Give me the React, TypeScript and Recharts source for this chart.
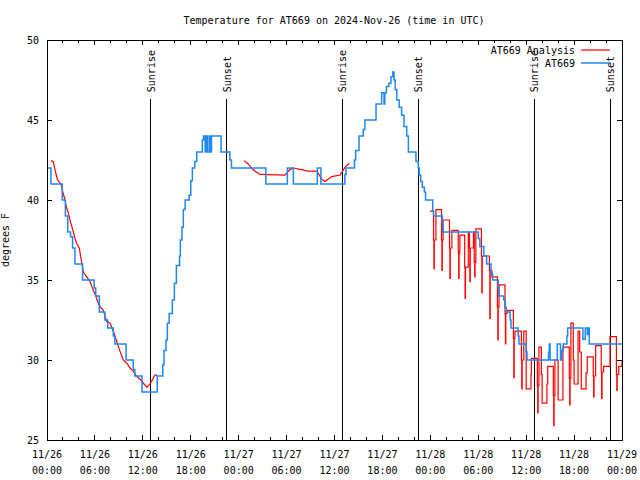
import React from 'react';
import { LineChart, Line, XAxis, YAxis, ReferenceLine, ReferenceArea } from 'recharts';

const FONT = '"DejaVu Sans Mono", "Liberation Mono", monospace';
const PLOT_TOP = 40;
const PLOT_BOTTOM = 440;
const PLOT_LEFT = 47;
const PLOT_RIGHT = 622;

// hours since 2024-11-26 00:00 UTC
const obsHours = [
  0.15, 0.5, 1.9, 2.3, 2.6, 2.95, 3.2, 3.5, 4.45, 5.9, 6.1, 6.55, 7.25, 7.6, 8.3, 8.5, 9.9, 10.8, 11.0, 11.9,
  13.8, 14.5, 14.65, 14.9, 15.07, 15.3, 15.7, 15.95, 16.2, 16.6, 16.7, 16.9, 17.07, 17.3, 17.8, 18.0, 18.2,
  18.5, 18.75, 19.45, 19.6, 19.8, 19.95, 20.07, 20.3, 20.45, 20.6, 21.8, 22.9, 23.1, 27.4, 30.1, 30.85,
  33.85, 34.3, 37.3, 37.44, 38.5, 38.65, 39.07, 39.6, 39.8, 41.2, 41.9, 42.2, 42.3, 42.5, 42.8, 43.07, 43.3,
  43.45, 43.6, 43.8, 44.1, 44.4, 44.7, 45.04, 45.25, 46.2, 46.5, 46.6, 46.8, 47.0, 47.25, 47.4, 48.3, 48.4,
  49.5, 49.55, 54.0, 54.2, 54.7, 55.05, 55.6, 55.8, 56.5, 56.6, 57.2, 57.35, 57.5, 58.0, 58.1, 59.0, 59.1,
  60.0, 60.1, 62.8, 62.9, 63.0, 63.9, 64.3, 64.45, 64.65, 65.1, 65.2, 67.1, 67.4, 67.65, 67.8, 67.9, 72,
];
const obsTemps = [
  42, 41, 40, 39, 38, 37.7, 37, 36, 35, 34.5, 34, 33, 32.5, 32, 31.5, 31, 30, 29.4, 29, 28,
  29, 29.7, 30.6, 31.25, 32.3, 32.9, 33.75, 34.8, 35.9, 36.5, 37.5, 38.3, 39.4, 40, 40.3, 41.2, 42,
  42.4, 43, 43.75, 44, 43, 44, 43, 44, 43, 44, 43, 42.5, 42, 41, 42, 41,
  42, 41, 41.6, 42, 42.5, 43.1, 44, 44.4, 45, 46, 46.7, 46, 46.7, 47.1, 47.3, 47.7, 48,
  47.5, 46.9, 46.25, 45.8, 45.3, 44.6, 44, 43, 42.4, 42, 41.56, 41.15, 40.8, 40.5, 40, 39.3, 39,
  38.5, 38, 37.6, 37.1, 36.5, 36, 35.4, 35, 34.5, 34, 33.75, 33.3, 33, 32.5, 32, 31.5, 31,
  30.5, 30, 30.5, 31, 30, 31, 30, 30.6, 31, 31.5, 32, 31.3, 32, 31.6, 32, 31, 31,
];

// analysis, first two days (smooth, gap between)
const anaSmoothHours = [
  0.5, 0.79, 1.0, 1.29, 1.54, 1.75, 2.04, 2.25, 2.46, 2.67, 2.96, 3.3, 3.5, 3.7, 4.05, 4.2, 4.55, 4.97, 5.4,
  5.6, 6.1, 6.55, 7.05, 7.47, 7.9, 8.3, 8.7, 9.1, 9.55, 10.0, 10.4, 10.8, 11.2, 11.65, 12.15, 12.5, 12.9,
  13.3, 13.5, 13.8, 19,
  24.67, 25.2, 25.6, 26.05, 26.7, 29.8, 30.4, 30.85, 31.9, 32.6, 33.8, 34.4, 34.8, 35.65, 36.7, 37.3, 37.85,
];
const anaSmoothTemps = [
  42.46, 42.4, 41.9, 41.3, 41.1, 41.0, 40.4, 40.0, 39.5, 39.2, 38.6, 38.0, 37.6, 37.3, 37.0, 36.5, 35.5, 35.2, 34.9,
  34.6, 34.0, 33.4, 33.1, 32.4, 32.3, 31.8, 31.2, 30.6, 30.0, 29.8, 29.5, 29.3, 29.0, 28.8, 28.5, 28.3, 28.5,
  28.85, 29.06, 29.06, null,
  42.46, 42.25, 42.0, 41.8, 41.6, 41.56, 41.9, 42.0, 41.9, 41.8, 41.8, 41.3, 41.15, 41.46, 41.56, 42.04, 42.3,
];

// analysis, third day (stepped, with dips)
const anaStepHours = [
  47.96, 48.4, 48.45, 48.5, 48.7, 49.4, 49.45, 49.5, 49.6, 50.4, 50.45, 50.5, 50.7, 51.5, 51.55, 51.6, 51.7,
  52.3, 52.35, 52.4, 52.75, 52.9, 52.95, 53.0, 53.4, 53.5, 53.55, 53.6, 53.7, 54.4, 54.45, 54.5, 55.4, 55.45,
  55.5, 55.7, 56.4, 56.45, 56.5, 56.6, 57.35, 57.4, 57.45, 57.6, 58.4, 58.45, 58.5, 58.6, 59.4, 59.45, 59.5,
  59.7, 60.0, 60.6, 60.65, 61.4, 61.45, 61.5, 61.6, 61.9, 62.0, 62.6, 62.7, 63.4, 63.45, 63.5, 63.6, 64.0,
  64.6, 65.4, 65.45, 65.5, 65.6, 65.9, 66.0, 66.5, 66.7, 66.9, 67.5, 67.65, 68.4, 68.45, 68.5, 68.7, 69.4,
  69.45, 69.5, 69.7, 70.5, 71.3, 71.35, 71.4, 71.6, 72,
];
const anaStepTemps = [
  39.3, 37.5, 35.7, 37.5, 39.4, 37.5, 35.6, 37.5, 38.75, 37.0, 35.1, 37.0, 38.1, 36.7, 35.1, 36.7, 37.8,
  35.8, 33.85, 35.8, 38.0, 37.0, 34.9, 37.0, 38.0, 36.1, 35.2, 36.1, 38.2, 36.5, 34.2, 36.5, 35.6, 32.6,
  35.6, 35.2, 33.3, 31.25, 33.3, 34.7, 32.9, 31.0, 32.9, 33.1, 31.35, 28.9, 31.35, 31.8, 30.0, 28.2, 30.0,
  31.8, 28.2, 29.1, 30.1, 28.4, 26.7, 28.4, 30.8, 29.1, 27.3, 28.5, 29.6, 27.75, 25.9, 27.75, 30.0, 27.5,
  30.8, 28.85, 27.2, 28.85, 32.3, 30.0, 28.5, 31.8, 30.5, 28.2, 29.2, 30.2, 29.0, 27.7, 29.0, 30.9, 29.25,
  27.6, 29.25, 29.6, 31.46, 29.1, 28.1, 29.1, 29.6, 30,
];

const sunHours = [12.98, 22.5, 36.99, 46.5, 60.99, 70.5];
const sunLabels = ['Sunrise', 'Sunset', 'Sunrise', 'Sunset', 'Sunrise', 'Sunset'];
const sunLineTop = 46.3;

const majorHours = [0, 6, 12, 18, 24, 30, 36, 42, 48, 54, 60, 66, 72];
const xTickDates = ['11/26', '11/26', '11/26', '11/26', '11/27', '11/27', '11/27', '11/27', '11/28', '11/28', '11/28', '11/28', '11/29'];
const xTickTimes = ['00:00', '06:00', '12:00', '18:00', '00:00', '06:00', '12:00', '18:00', '00:00', '06:00', '12:00', '18:00', '00:00'];
const allXTicks = Array.from({ length: 37 }, (_, i) => i * 2);
const yTicks = [25, 30, 35, 40, 45, 50];

const obsData = obsHours.map((h, i) => ({ h, t: obsTemps[i] }));
const anaSmoothData = anaSmoothHours.map((h, i) => ({ h, t: anaSmoothTemps[i] }));
const anaStepData = anaStepHours.map((h, i) => ({ h, t: anaStepTemps[i] }));

function XTick({ x, payload }: any) {
  const i = majorHours.indexOf(payload.value);
  const len = i >= 0 ? 5 : 3;
  return (
    <g>
      <line x1={x} x2={x} y1={PLOT_BOTTOM} y2={PLOT_BOTTOM - len} stroke="#000" shapeRendering="crispEdges" />
      <line x1={x} x2={x} y1={PLOT_TOP} y2={PLOT_TOP + len} stroke="#000" shapeRendering="crispEdges" />
      {i >= 0 && (
        <text x={x} textAnchor="middle" fontFamily={FONT} fontSize={10} fill="#000">
          <tspan x={x} y={458}>{xTickDates[i]}</tspan>
          <tspan x={x} y={474}>{xTickTimes[i]}</tspan>
        </text>
      )}
    </g>
  );
}

function YTick({ y, payload }: any) {
  return (
    <g>
      <line x1={PLOT_LEFT} x2={PLOT_LEFT + 5} y1={y} y2={y} stroke="#000" shapeRendering="crispEdges" />
      <line x1={PLOT_RIGHT} x2={PLOT_RIGHT - 5} y1={y} y2={y} stroke="#000" shapeRendering="crispEdges" />
      <text x={39} y={y + 4} textAnchor="end" fontFamily={FONT} fontSize={10} fill="#000">
        {payload.value}
      </text>
    </g>
  );
}

function SunLabel({ viewBox, text }: any) {
  const x = viewBox.x + 4;
  const y = viewBox.y - 7;
  return (
    <text x={x} y={y} transform={`rotate(-90, ${x}, ${y})`} textAnchor="start" fontFamily={FONT} fontSize={10} fill="#000">
      {text}
    </text>
  );
}

export default function App() {
  return (
    <div style={{ position: 'absolute', left: 0, top: 0, width: 640, height: 480, background: '#fff' }}>
      <LineChart width={640} height={480} margin={{ top: 40, right: 18, bottom: 0, left: 0 }}>
        <XAxis
          dataKey="h"
          type="number"
          domain={[0, 72]}
          ticks={allXTicks}
          interval={0}
          tick={<XTick />}
          tickLine={false}
          axisLine={false}
          tickSize={0}
          height={40}
          allowDataOverflow
        />
        <YAxis
          type="number"
          domain={[25, 50]}
          ticks={yTicks}
          interval={0}
          tick={<YTick />}
          tickLine={false}
          axisLine={false}
          tickSize={0}
          width={47}
          allowDataOverflow
        />
        <ReferenceArea x1={0} x2={72} y1={25} y2={50} fill="none" stroke="#000" strokeWidth={1} shapeRendering="crispEdges" />
        {sunHours.map((h, i) => (
          <ReferenceLine
            key={i}
            segment={[{ x: h, y: 25 }, { x: h, y: sunLineTop }]}
            stroke="#000"
            strokeWidth={1}
            shapeRendering="crispEdges"
            label={<SunLabel text={sunLabels[i]} />}
          />
        ))}
        <Line
          data={anaSmoothData}
          dataKey="t"
          type="linear"
          stroke="#ff0000"
          strokeWidth={1.2}
          dot={false}
          isAnimationActive={false}
          connectNulls={false}
        />
        <Line
          data={anaStepData}
          dataKey="t"
          type="stepAfter"
          stroke="#ff0000"
          strokeWidth={1.2}
          dot={false}
          isAnimationActive={false}
        />
        <Line
          data={obsData}
          dataKey="t"
          type="stepAfter"
          stroke="#1e88f0"
          strokeWidth={1.5}
          dot={false}
          isAnimationActive={false}
        />
      </LineChart>
      <svg width={640} height={480} style={{ position: 'absolute', left: 0, top: 0, pointerEvents: 'none' }}>
        <text x={334} y={24} textAnchor="middle" fontFamily={FONT} fontSize={10} fill="#000">
          Temperature for AT669 on 2024-Nov-26 (time in UTC)
        </text>
        <text x={9} y={240} transform="rotate(-90, 9, 240)" textAnchor="middle" fontFamily={FONT} fontSize={10} fill="#000">
          degrees F
        </text>
        <text x={575} y={54} textAnchor="end" fontFamily={FONT} fontSize={10} fill="#000">AT669 Analysis</text>
        <line x1={581} x2={610} y1={50} y2={50} stroke="#ff0000" strokeWidth={1.2} />
        <text x={575} y={67} textAnchor="end" fontFamily={FONT} fontSize={10} fill="#000">AT669</text>
        <line x1={581} x2={610} y1={63} y2={63} stroke="#1e88f0" strokeWidth={1.5} />
      </svg>
    </div>
  );
}
